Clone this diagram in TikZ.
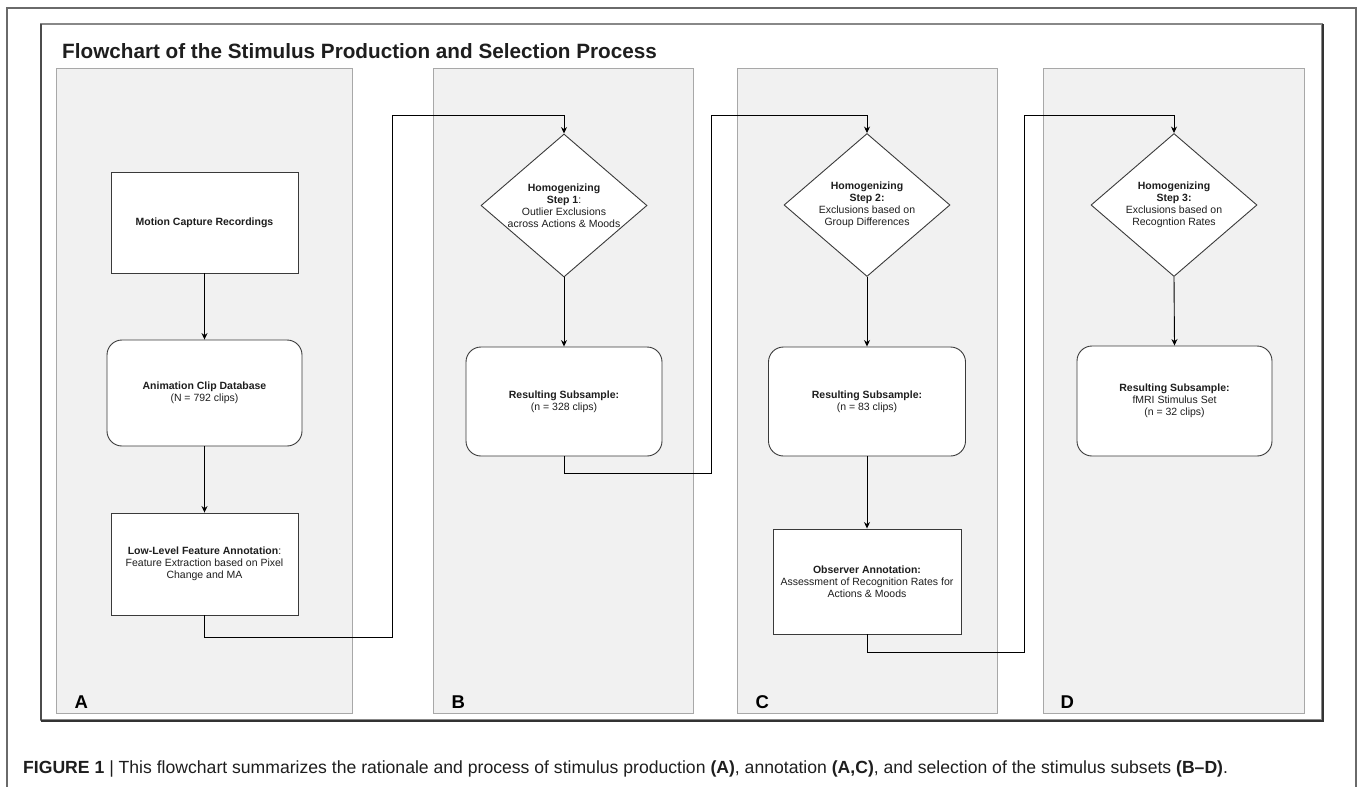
\documentclass[tikz,border=0pt]{standalone}
\usepackage{fontspec}
\setmainfont{Liberation Sans}
\usetikzlibrary{arrows.meta,shapes.geometric}
\definecolor{panelfill}{HTML}{F1F1F1}
\definecolor{paneldraw}{HTML}{A8A8A8}
\definecolor{boxdraw}{HTML}{3A3A3A}
\definecolor{txt}{HTML}{1E1E1E}
\definecolor{framec}{HTML}{6A6A6A}
\newcommand{\bodyfont}{\fontsize{10.5}{12}\selectfont}
\tikzset{
  panel/.style={draw=paneldraw, fill=panelfill, line width=1.3pt, anchor=north west, inner sep=0pt},
  procbox/.style={draw=boxdraw, fill=white, line width=0.9pt, inner sep=0pt, align=center, font=\bodyfont, text=txt},
  roundbox/.style={procbox, rounded corners=15pt},
  decision/.style={draw=boxdraw, fill=white, line width=0.9pt, diamond, inner sep=0pt, minimum width=166pt, minimum height=143pt},
  conn/.style={draw=black, line width=0.9pt},
  arr/.style={conn, -{Stealth[length=6.5pt,width=6pt]}},
  plabel/.style={anchor=base west, font=\fontsize{18.5}{20}\selectfont\bfseries, text=black},
}
\begin{document}
\begin{tikzpicture}[x=1pt,y=-1pt]
\useasboundingbox (0,0) rectangle (1358,787);
\clip (0,0) rectangle (1358,787);
\fill[white] (0,0) rectangle (1358,787);
% outer frame
\draw[framec, line width=1.2pt] (7,8) rectangle (1356,800);
% inner frame with shadow
\draw[framec!80, line width=1.6pt] (41,24) rectangle (1322,720);
\draw[black!80, line width=1.8pt] (41,721) -- (1323,721) -- (1323,24);
\draw[black!70, line width=1.2pt] (41,24) -- (41,720);
% title
\node[anchor=base west, font=\fontsize{20.7}{24}\selectfont\bfseries, text=txt, inner sep=0pt] (title) at (62,58) {Flowchart of the Stimulus Production and Selection Process};
% panels
\node[panel, minimum width=296pt, minimum height=645pt] (pA) at (56,68) {};
\node[panel, minimum width=260pt, minimum height=645pt] (pB) at (433,68) {};
\node[panel, minimum width=260pt, minimum height=645pt] (pC) at (737,68) {};
\node[panel, minimum width=261pt, minimum height=645pt] (pD) at (1043,68) {};
\node[plabel] (lA) at (71,708) {A};
\node[plabel] (lB) at (448,708) {B};
\node[plabel] (lC) at (752,708) {C};
\node[plabel] (lD) at (1057,708) {D};
% panel A
\node[procbox, minimum width=187pt, minimum height=101pt] (mocap) at (204.5,222.5) {\textbf{Motion Capture Recordings}};
\node[roundbox, minimum width=195pt, minimum height=106pt] (anim) at (204.5,393) {\textbf{Animation Clip Database}\\(N = 792 clips)};
\node[procbox, minimum width=187pt, minimum height=102pt] (lowlev) at (204.5,564) {\textbf{Low-Level Feature Annotation}:\\Feature Extraction based on Pixel\\Change and MA};
% panel B
\node[decision, label={[align=center, font=\bodyfont, text=txt]center:\textbf{Homogenizing}\\\textbf{Step 1}:\\Outlier Exclusions\\across Actions \& Moods}] (hom1) at (564,205.5) {};
\node[roundbox, minimum width=196pt, minimum height=109pt] (sub1) at (564,401.5) {\textbf{Resulting Subsample:}\\(n = 328 clips)};
% panel C
\node[decision, label={[align=center, font=\bodyfont, text=txt]center:\textbf{Homogenizing}\\\textbf{Step 2:}\\Exclusions based on\\Group Differences}] (hom2) at (867,205) {};
\node[roundbox, minimum width=197pt, minimum height=109pt] (sub2) at (867,401.5) {\textbf{Resulting Subsample:}\\(n = 83 clips)};
\node[procbox, minimum width=188pt, minimum height=105pt] (obs) at (867,581.5) {\textbf{Observer Annotation:}\\Assessment of Recognition Rates for\\Actions \& Moods};
% panel D
\node[decision, label={[align=center, font=\bodyfont, text=txt]center:\textbf{Homogenizing}\\\textbf{Step 3:}\\Exclusions based on\\Recogntion Rates}] (hom3) at (1174,205) {};
\node[roundbox, minimum width=195pt, minimum height=110pt] (sub3) at (1174.5,401) {\textbf{Resulting Subsample:}\\fMRI Stimulus Set\\(n = 32 clips)};
% elbow coordinates
\coordinate (eA1) at (204.5,637);
\coordinate (eA2) at (392,637);
\coordinate (eA3) at (392,115);
\coordinate (eB1) at (564,473);
\coordinate (eB2) at (711,473);
\coordinate (eB3) at (711,115);
\coordinate (eC1) at (867,652);
\coordinate (eC2) at (1024,652);
\coordinate (eC3) at (1024,115);
% connectors
\draw[arr] (mocap.south) -- (anim.north);
\draw[arr] (anim.south) -- (lowlev.north);
\draw[arr] (lowlev.south) -- (eA1) -- (eA2) -- (eA3) -| (hom1.north);
\draw[arr] (hom1.south) -- (sub1.north);
\draw[arr] (sub1.south) -- (eB1) -- (eB2) -- (eB3) -| (hom2.north);
\draw[arr] (hom2.south) -- (sub2.north);
\draw[arr] (sub2.south) -- (obs.north);
\draw[arr] (obs.south) -- (eC1) -- (eC2) -- (eC3) -| (hom3.north);
\draw[arr] (hom3.south) -- (sub3.north);
% caption
\node[anchor=base west, inner sep=0pt, font=\fontsize{17.6}{20}\selectfont, text=txt] (caption) at (23,773) {\textbf{FIGURE 1} | This flowchart summarizes the rationale and process of stimulus production \textbf{(A)}, annotation \textbf{(A,C)}, and selection of the stimulus subsets \textbf{(B--D)}.};
\end{tikzpicture}
\end{document}
